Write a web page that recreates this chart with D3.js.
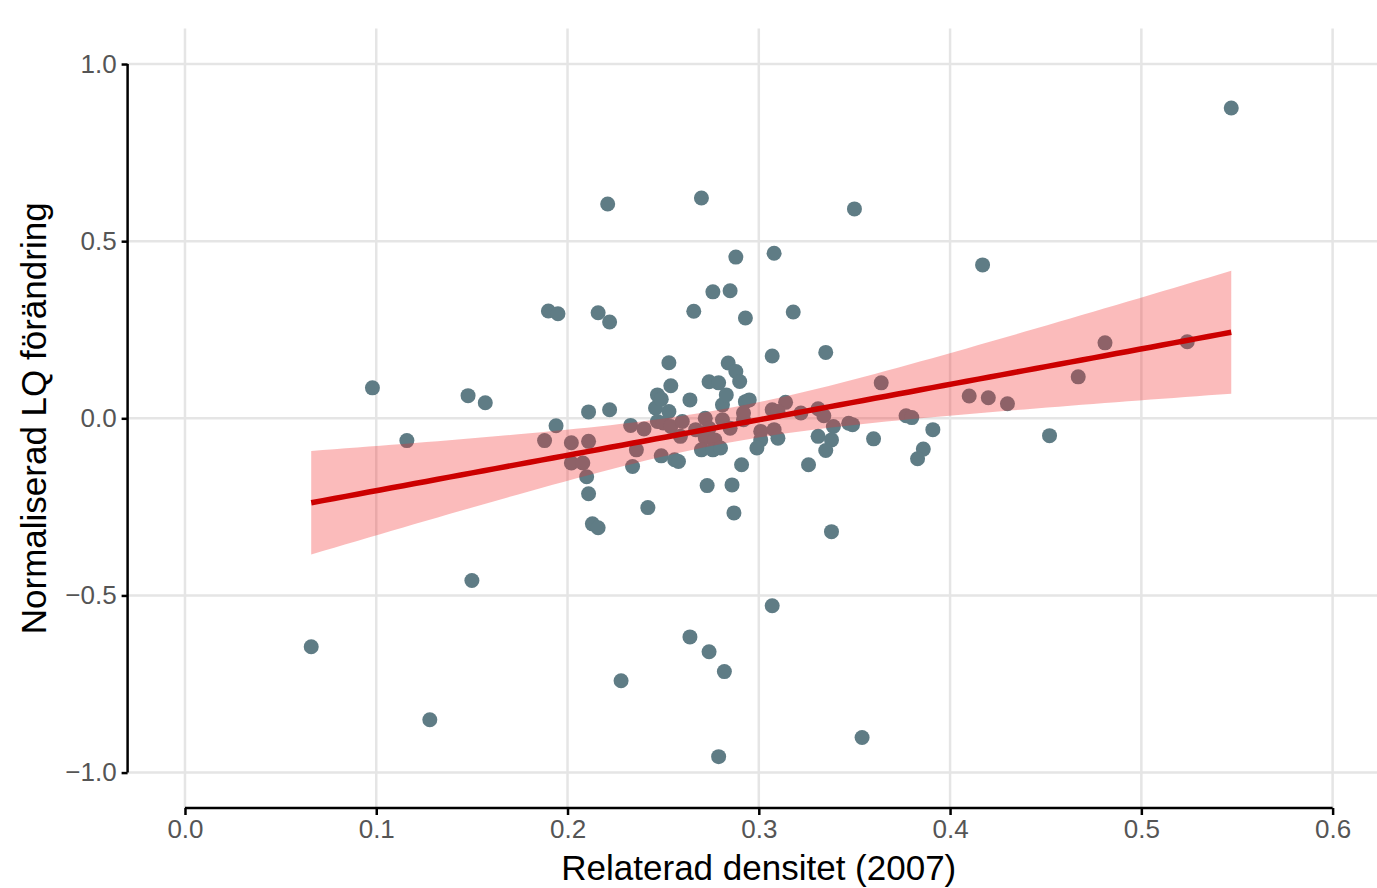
<!DOCTYPE html>
<html>
<head>
<meta charset="utf-8">
<script src="https://cdn.jsdelivr.net/npm/d3@7"></script>
<style>
  body { margin: 0; background: #fff; }
  text { font-family: "Liberation Sans", Arial, sans-serif; }
</style>
</head>
<body>
<svg id="chart" width="1377" height="888"></svg>
<script>
// data
let densitet = [
  0.066, 0.098, 0.116, 0.128, 0.148, 0.150, 0.157,
  0.190, 0.195, 0.216, 0.222, 0.221, 0.270, 0.350, 0.417, 0.547,
  0.266, 0.276, 0.285, 0.288, 0.293, 0.308, 0.318, 0.307, 0.335, 0.364,
  0.481, 0.524, 0.467, 0.410, 0.420, 0.430, 0.452, 0.391, 0.386, 0.383, 0.377, 0.380, 0.360,
  0.354, 0.307, 0.338, 0.264, 0.274, 0.282, 0.279, 0.228, 0.242, 0.287, 0.286, 0.273, 0.213, 0.216, 0.210, 0.211,
  0.188, 0.194, 0.202, 0.211, 0.202, 0.208, 0.211, 0.222,
  0.233, 0.240, 0.236, 0.234,
  0.246, 0.247, 0.249, 0.253, 0.254, 0.253, 0.264,
  0.247, 0.250, 0.254, 0.260, 0.259, 0.249, 0.256, 0.258,
  0.267, 0.272, 0.274, 0.272, 0.277, 0.270, 0.276,
  0.274, 0.279, 0.281, 0.285, 0.281, 0.283, 0.284, 0.288, 0.290, 0.293, 0.292, 0.280, 0.291,
  0.295, 0.292, 0.314, 0.307, 0.310, 0.322, 0.331, 0.334, 0.339, 0.347, 0.349,
  0.301, 0.308, 0.310, 0.301, 0.299, 0.331, 0.338, 0.335, 0.326
];
let lqForandring = [
  -0.645, 0.086, -0.063, -0.851, 0.064, -0.458, 0.044,
  0.303, 0.295, 0.298, 0.272, 0.605, 0.622, 0.591, 0.433, 0.876,
  0.302, 0.357, 0.360, 0.455, 0.283, 0.466, 0.300, 0.176, 0.186, 0.100,
  0.213, 0.216, 0.117, 0.063, 0.058, 0.041, -0.049, -0.032, -0.087, -0.114, 0.007, 0.002, -0.058,
  -0.901, -0.529, -0.320, -0.617, -0.659, -0.715, -0.955, -0.741, -0.252, -0.267, -0.188, -0.190, -0.298, -0.309, -0.165, -0.213,
  -0.063, -0.021, -0.069, -0.065, -0.126, -0.126, 0.018, 0.024,
  -0.020, -0.030, -0.089, -0.136,
  0.029, 0.066, 0.054, 0.157, 0.092, 0.019, 0.052,
  -0.009, -0.013, -0.023, -0.009, -0.051, -0.106, -0.117, -0.122,
  -0.032, 0.000, -0.028, -0.055, -0.061, -0.089, -0.089,
  0.103, 0.100, -0.004, -0.028, 0.038, 0.066, 0.156, 0.132, 0.104, 0.047, -0.004, -0.084, -0.131,
  0.052, 0.015, 0.045, 0.024, 0.019, 0.015, 0.027, 0.007, -0.023, -0.014, -0.018,
  -0.037, -0.032, -0.056, -0.061, -0.084, -0.051, -0.061, -0.091, -0.131
];
let xTicks = [0, 0.1, 0.2, 0.3, 0.4, 0.5, 0.6];
let yTicks = [-1, -0.5, 0, 0.5, 1];

let svg = d3.select("#chart");

// panel
let panel = {left: 127.6, right: 1390, top: 28.6, bottom: 808};
let x = d3.scaleLinear().domain([-0.03, 0.63]).range([panel.left, panel.right]);
let y = d3.scaleLinear().domain([-1.1, 1.1]).range([panel.bottom, panel.top]);

let pts = densitet.map(function(d, i) { return {x: d, y: lqForandring[i]}; });

// linear fit + 95% confidence band (like geom_smooth(method = "lm"))
let n = pts.length;
let mx = d3.mean(pts, d => d.x), my = d3.mean(pts, d => d.y);
let sxx = d3.sum(pts, d => (d.x - mx) * (d.x - mx));
let sxy = d3.sum(pts, d => (d.x - mx) * (d.y - my));
let slope = sxy / sxx, icpt = my - slope * mx;
let sse = d3.sum(pts, d => Math.pow(d.y - (icpt + slope * d.x), 2));
let sigma = Math.sqrt(sse / (n - 2));
let tq = 1.98;
let xr = d3.extent(densitet);
let fit = d3.range(0, 81).map(function(i) {
  let xv = xr[0] + (xr[1] - xr[0]) * i / 80;
  let f = icpt + slope * xv;
  let se = sigma * Math.sqrt(1 / n + (xv - mx) * (xv - mx) / sxx);
  return {x: xv, y: f, lo: f - tq * se, hi: f + tq * se};
});

// grid
let grid = svg.append("g");
grid.selectAll(".hg").data(yTicks).enter().append("line")
    .attr("x1", panel.left).attr("x2", 1377)
    .attr("y1", d => y(d)).attr("y2", d => y(d))
    .attr("stroke", "#e5e5e5").attr("stroke-width", 2.5);
grid.selectAll(".vg").data(xTicks).enter().append("line")
    .attr("x1", d => x(d)).attr("x2", d => x(d))
    .attr("y1", panel.top).attr("y2", panel.bottom)
    .attr("stroke", "#e5e5e5").attr("stroke-width", 2.5);

// points
svg.append("g").selectAll("circle").data(pts).enter().append("circle")
    .attr("cx", d => x(d.x)).attr("cy", d => y(d.y))
    .attr("r", 7.5)
    .attr("fill", "#5f7c85");

// ribbon
svg.append("path").datum(fit)
    .attr("d", d3.area().x(d => x(d.x)).y0(d => y(d.lo)).y1(d => y(d.hi)))
    .attr("fill", "#f22c2c").attr("fill-opacity", 0.32);

// fitted line
svg.append("path").datum(fit)
    .attr("d", d3.line().x(d => x(d.x)).y(d => y(d.y)))
    .attr("fill", "none").attr("stroke", "#cc0000").attr("stroke-width", 5.5);

// y axis (capped)
let yAxis = svg.append("g")
    .attr("transform", "translate(" + panel.left + ",0)")
    .call(d3.axisLeft(y).tickValues(yTicks).tickSize(6).tickPadding(5)
      .tickFormat(d => d3.format(".1f")(d).replace("-", "\u2212")));
yAxis.select(".domain").remove();
yAxis.append("line")
    .attr("x1", 0).attr("x2", 0)
    .attr("y1", y(1)).attr("y2", y(-1))
    .attr("stroke", "#000").attr("stroke-width", 2.5);
yAxis.selectAll(".tick line").attr("stroke", "#000").attr("stroke-width", 2.5);
yAxis.selectAll("text").attr("fill", "#555").style("font-size", "26px");

// x axis (capped)
let xAxis = svg.append("g")
    .attr("transform", "translate(0," + panel.bottom + ")")
    .call(d3.axisBottom(x).tickValues(xTicks).tickSize(7).tickPadding(5)
      .tickFormat(d3.format(".1f")));
xAxis.select(".domain").remove();
xAxis.append("line")
    .attr("x1", x(0)).attr("x2", x(0.6))
    .attr("y1", 0).attr("y2", 0)
    .attr("stroke", "#000").attr("stroke-width", 2.5);
xAxis.selectAll(".tick line").attr("stroke", "#000").attr("stroke-width", 2.5);
xAxis.selectAll("text").attr("fill", "#555").style("font-size", "26px");

// axis titles
svg.append("text")
    .attr("x", x(0.3)).attr("y", 880)
    .attr("text-anchor", "middle")
    .style("font-size", "35px")
    .text("Relaterad densitet (2007)");
svg.append("text")
    .attr("transform", "translate(46," + y(0) + ") rotate(-90)")
    .attr("text-anchor", "middle")
    .style("font-size", "35px")
    .text("Normaliserad LQ förändring");
</script>
</body>
</html>
